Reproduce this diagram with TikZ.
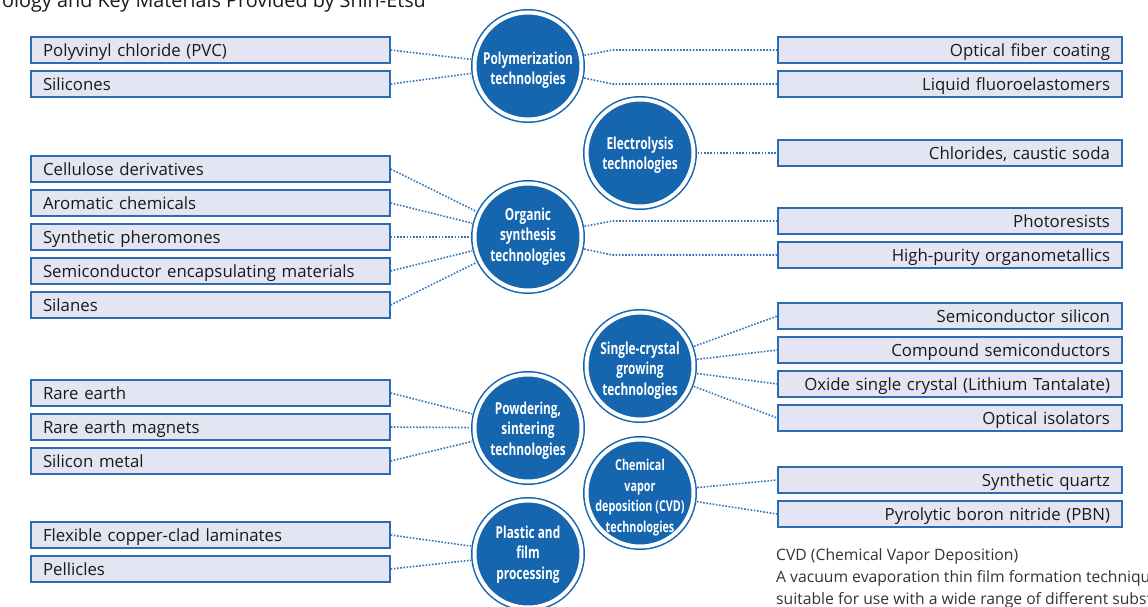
\documentclass[tikz,border=0pt]{standalone}
\usepackage{fontspec}
\setmainfont{Open Sans}
\newfontfamily\condfont[FakeStretch=0.72]{Open Sans}
\definecolor{cblue}{HTML}{1565AF}
\definecolor{bblue}{HTML}{2B6CB3}
\definecolor{bfill}{HTML}{E3E5F2}
\definecolor{lblue}{HTML}{3274BB}
\definecolor{txt}{HTML}{1A1A1A}
\definecolor{notetxt}{HTML}{333333}
\begin{document}
\begin{tikzpicture}[x=1pt,y=-1pt,
  tech/.style={circle, fill=cblue, draw=cblue, double=white, double distance=4pt,
    line width=1.5pt, minimum size=107pt, inner sep=0pt, outer sep=4pt},
  techtext/.style={text=white, align=center, inner sep=0pt,
    font=\condfont\bfseries\fontsize{16.5}{20.5}\selectfont},
  techsmall/.style={techtext, font=\condfont\bfseries\fontsize{15}{20.5}\selectfont},
  lbox/.style={draw=bblue, fill=bfill, line width=1.3pt, minimum height=26pt,
    text width=335pt, inner xsep=12pt, inner ysep=0pt, align=left,
    text height=15.5pt, text depth=3pt,
    font=\fontsize{16.8}{20}\selectfont, text=txt},
  rbox/.style={lbox, text width=320pt, align=right},
  link/.style={draw=lblue, line width=1.6pt, dash pattern=on 1.6pt off 1.6pt},
  note/.style={anchor=base west, inner sep=0pt, text=notetxt, font=\fontsize{15.7}{22}\selectfont}
]
\useasboundingbox (0,0) rectangle (1148,607);

% title
\node[anchor=base west, inner sep=0pt, text=txt, font=\fontsize{19.8}{22}\selectfont] (title) at (2,8) {ology and Key Materials Provided by Shin-Etsu};

% technology circles
\node[tech] (poly) at (528,66) {};
\node[techtext] (polyt) at ([yshift=-4pt]poly.center) {Polymerization\\technologies};
\node[tech] (elec) at (640,153) {};
\node[techtext] (elect) at ([yshift=-2pt]elec.center) {Electrolysis\\technologies};
\node[tech] (org) at (528,237) {};
\node[techtext] (orgt) at ([yshift=0.5pt]org.center) {Organic\\synthesis\\technologies};
\node[tech] (sc) at (640,366) {};
\node[techtext] (sct) at ([yshift=-4.5pt]sc.center) {Single-crystal\\growing\\technologies};
\node[tech] (pow) at (528,428) {};
\node[techtext] (powt) at ([yshift=-2.5pt]pow.center) {Powdering,\\sintering\\technologies};
\node[tech] (cvd) at (640,493) {};
\node[techsmall] (cvdt) at ([yshift=-4.5pt]cvd.center) {Chemical\\vapor\\deposition (CVD)\\technologies};
\node[tech] (pla) at (528,554) {};
\node[techtext] (plat) at ([yshift=-0.5pt]pla.center) {Plastic and\\film\\processing};

% left boxes
\node[lbox] (pvc) at (210.5,50) {Polyvinyl chloride (PVC)};
\node[lbox] (sil) at (210.5,84) {Silicones};
\node[lbox] (cel) at (210.5,169) {Cellulose derivatives};
\node[lbox] (aro) at (210.5,203) {Aromatic chemicals};
\node[lbox] (phe) at (210.5,237) {Synthetic pheromones};
\node[lbox] (sem) at (210.5,271) {Semiconductor encapsulating materials};
\node[lbox] (sila) at (210.5,305) {Silanes};
\node[lbox] (ree) at (210.5,393) {Rare earth};
\node[lbox] (rem) at (210.5,427) {Rare earth magnets};
\node[lbox] (sim) at (210.5,461) {Silicon metal};
\node[lbox] (fcc) at (210.5,535) {Flexible copper-clad laminates};
\node[lbox] (pel) at (210.5,569) {Pellicles};

% right boxes
\node[rbox] (ofc) at (950,50) {Optical fiber coating};
\node[rbox] (lfe) at (950,84) {Liquid fluoroelastomers};
\node[rbox] (chl) at (950,153) {Chlorides, caustic soda};
\node[rbox] (pho) at (950,221) {Photoresists};
\node[rbox] (hpo) at (950,255) {High-purity organometallics};
\node[rbox] (ssi) at (950,316) {Semiconductor silicon};
\node[rbox] (csc) at (950,350) {Compound semiconductors};
\node[rbox] (osc) at (950,384) {Oxide single crystal (Lithium Tantalate)};
\node[rbox] (opi) at (950,418) {Optical isolators};
\node[rbox] (sqz) at (950,480) {Synthetic quartz};
\node[rbox] (pbn) at (950,514) {Pyrolytic boron nitride (PBN)};

% connectors left
\draw[link] (pvc.east) -- (poly);
\draw[link] (sil.east) -- (poly);
\draw[link] (cel.east) -- (org);
\draw[link] (aro.east) -- (org);
\draw[link] (phe.east) -- (org);
\draw[link] (sem.east) -- (org);
\draw[link] (sila.east) -- (org);
\draw[link] (ree.east) -- (pow);
\draw[link] (rem.east) -- (pow);
\draw[link] (sim.east) -- (pow);
\draw[link] (fcc.east) -- (pla);
\draw[link] (pel.east) -- (pla);

% connectors right
\draw[link] (poly) -- ([xshift=-165pt]ofc.west) -- (ofc.west);
\draw[link] (poly) -- ([xshift=-165pt]lfe.west) -- (lfe.west);
\draw[link] (elec) -- (chl.west);
\draw[link] (org) -- ([xshift=-165pt]pho.west) -- (pho.west);
\draw[link] (org) -- ([xshift=-165pt]hpo.west) -- (hpo.west);
\draw[link] (sc) -- (ssi.west);
\draw[link] (sc) -- (csc.west);
\draw[link] (sc) -- (osc.west);
\draw[link] (sc) -- (opi.west);
\draw[link] (cvd) -- (sqz.west);
\draw[link] (cvd) -- (pbn.west);

% note
\node[note] (note1) at (776,560) {CVD (Chemical Vapor Deposition)};
\node[note] (note2) at (776,582) {A vacuum evaporation thin film formation techniqu};
\node[note] (note3) at (776,604) {suitable for use with a wide range of different subst};
\end{tikzpicture}
\end{document}
